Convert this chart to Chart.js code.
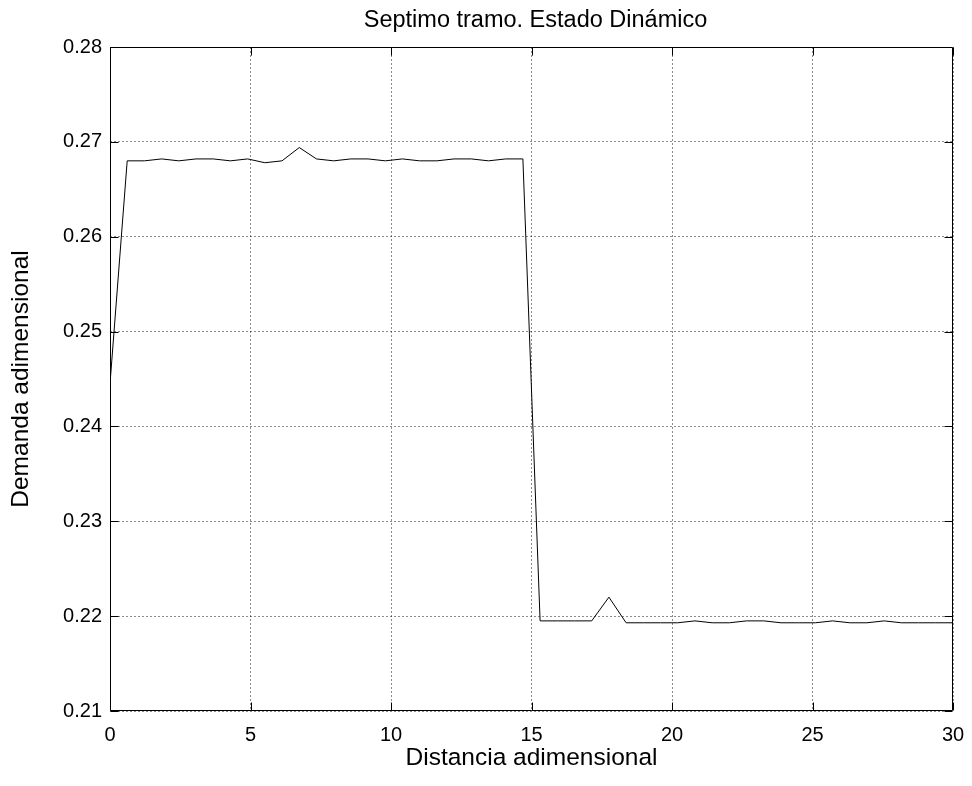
<!DOCTYPE html>
<html>
<head>
<meta charset="utf-8">
<script src="https://cdn.jsdelivr.net/npm/chart.js@4.4.1/dist/chart.umd.min.js"></script>
<style>
  html, body { margin: 0; padding: 0; background: #fff; }
  #wrap { width: 972px; height: 786px; }
</style>
</head>
<body>
<div id="wrap"><canvas id="chart"></canvas></div>
<script>
// Sample positions along the section (50 stations from 0 to 30)
const distance = [
  0, 0.612, 1.224, 1.837, 2.449, 3.061, 3.673, 4.286, 4.898, 5.510,
  6.122, 6.735, 7.347, 7.959, 8.571, 9.184, 9.796, 10.408, 11.020, 11.633,
  12.245, 12.857, 13.469, 14.082, 14.694, 15.306, 15.918, 16.531, 17.143, 17.755,
  18.367, 18.980, 19.592, 20.204, 20.816, 21.429, 22.041, 22.653, 23.265, 23.878,
  24.490, 25.102, 25.714, 26.327, 26.939, 27.551, 28.163, 28.776, 29.388, 30
];

// Dimensionless demand at each station
const demand = [
  0.2445, 0.2680, 0.2680, 0.2682, 0.2680, 0.2682, 0.2682, 0.2680, 0.2682, 0.2678,
  0.2680, 0.2694, 0.2682, 0.2680, 0.2682, 0.2682, 0.2680, 0.2682, 0.2680, 0.2680,
  0.2682, 0.2682, 0.2680, 0.2682, 0.2682, 0.2195, 0.2195, 0.2195, 0.2195, 0.2220,
  0.2193, 0.2193, 0.2193, 0.2193, 0.2195, 0.2193, 0.2193, 0.2195, 0.2195, 0.2193,
  0.2193, 0.2193, 0.2195, 0.2193, 0.2193, 0.2195, 0.2193, 0.2193, 0.2193, 0.2193
];

const xTicks = [0, 5, 10, 15, 20, 25, 30];
const yTicks = [0.21, 0.22, 0.23, 0.24, 0.25, 0.26, 0.27, 0.28];

const chartTitle = 'Septimo tramo. Estado Dinámico';
const xLabel = 'Distancia adimensional';
const yLabel = 'Demanda adimensional';

const FONT = '"Liberation Sans", Arial, sans-serif';

// Box around the axes with short inward tick marks on all four sides, plus the title
const axesBox = {
  id: 'axesBox',
  afterDraw(chart) {
    const { ctx, chartArea: a, scales: { x, y } } = chart;
    const L = Math.round(a.left) + 0.5, R = Math.round(a.right) - 0.5;
    const T = Math.round(a.top) + 0.5, B = Math.round(a.bottom) - 0.5;
    const len = 8;
    ctx.save();
    ctx.strokeStyle = '#000';
    ctx.lineWidth = 1;
    ctx.beginPath();
    ctx.rect(L, T, R - L, B - T);
    xTicks.forEach(v => {
      const px = Math.round(x.getPixelForValue(v)) + 0.5;
      ctx.moveTo(px, B); ctx.lineTo(px, B - len);
      ctx.moveTo(px, T); ctx.lineTo(px, T + len);
    });
    yTicks.forEach(v => {
      const py = Math.round(y.getPixelForValue(v)) + 0.5;
      ctx.moveTo(L, py); ctx.lineTo(L + len, py);
      ctx.moveTo(R, py); ctx.lineTo(R - len, py);
    });
    ctx.stroke();

    ctx.fillStyle = '#000';
    ctx.font = '23.5px ' + FONT;
    ctx.textAlign = 'center';
    ctx.textBaseline = 'middle';
    ctx.fillText(chartTitle, (a.left + a.right) / 2 + 4, 21);
    ctx.restore();
  }
};

const gridStyle = {
  color: 'rgba(0,0,0,0.45)',
  lineWidth: 1,
  drawTicks: false
};

new Chart(document.getElementById('chart'), {
  type: 'line',
  data: {
    datasets: [{
      data: distance.map((d, i) => ({ x: d, y: demand[i] })),
      borderColor: '#000',
      borderWidth: 1,
      pointRadius: 0,
      tension: 0,
      fill: false
    }]
  },
  options: {
    responsive: true,
    maintainAspectRatio: false,
    animation: false,
    layout: { padding: { top: 47, right: 19, left: 0, bottom: 0 } },
    plugins: {
      legend: { display: false },
      title: { display: false },
      tooltip: { enabled: false }
    },
    scales: {
      x: {
        type: 'linear',
        min: 0,
        max: 30,
        afterBuildTicks(scale) { scale.ticks = xTicks.map(v => ({ value: v })); },
        afterFit(scale) {
          scale.height = 75;
          scale.paddingLeft = 0;
          scale.paddingRight = 0;
        },
        ticks: {
          color: '#000',
          font: { family: FONT, size: 20 },
          padding: 12,
          maxRotation: 0,
          callback: v => String(v)
        },
        grid: gridStyle,
        border: { display: false, dash: [2, 2] },
        title: {
          display: true,
          text: xLabel,
          color: '#000',
          font: { family: FONT, size: 24.5 },
          padding: { top: 0, bottom: 13 }
        }
      },
      y: {
        type: 'linear',
        min: 0.21,
        max: 0.28,
        afterBuildTicks(scale) { scale.ticks = yTicks.map(v => ({ value: v })); },
        afterFit(scale) {
          scale.width = 110;
          scale.paddingTop = 0;
          scale.paddingBottom = 0;
        },
        ticks: {
          color: '#000',
          font: { family: FONT, size: 20 },
          padding: 8,
          callback: v => Number(v).toFixed(2)
        },
        grid: gridStyle,
        border: { display: false, dash: [2, 2] },
        title: {
          display: true,
          text: yLabel,
          color: '#000',
          font: { family: FONT, size: 24.5 },
          padding: { top: 7, bottom: 0 }
        }
      }
    }
  },
  plugins: [axesBox]
});
</script>
</body>
</html>
